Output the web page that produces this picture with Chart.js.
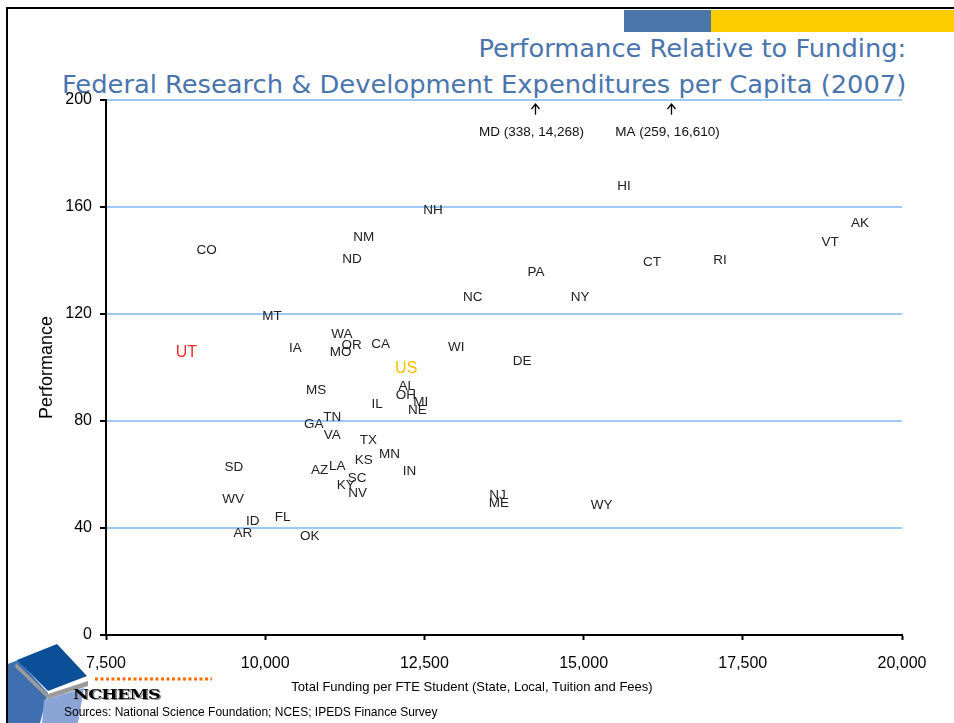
<!DOCTYPE html>
<html>
<head>
<meta charset="utf-8">
<script src="https://cdn.jsdelivr.net/npm/chart.js@4.4.1/dist/chart.umd.min.js"></script>
<style>
  html, body { margin: 0; padding: 0; background: #fff; }
  body { width: 954px; height: 723px; position: relative; overflow: hidden; font-family: "Liberation Sans", Arial, sans-serif; }
  #chart { position: absolute; left: 0; top: 0; }
  #frame { position: absolute; left: 6px; top: 7px; width: 960px; height: 730px; border-left: 2px solid #000; border-top: 2px solid #000; }
  .bar { position: absolute; top: 10px; height: 22px; }
  #title { position: absolute; right: 48px; top: 31px; text-align: right; color: #4a74ad;
           font-family: "DejaVu Sans Condensed", "DejaVu Sans", sans-serif; font-stretch: condensed;
           font-size: 25px; line-height: 36px; white-space: nowrap;
           transform: scaleX(1.145); transform-origin: right center; }
  .txt { position: absolute; white-space: nowrap; color: #000; }
  #xtitle { left: 472px; top: 686px; font-size: 13px; transform: translate(-50%, -50%); }
  #sources { left: 64px; top: 712px; font-size: 12px; transform: translateY(-50%); }
  #nchems { left: 73px; top: 695px; font-family: "DejaVu Serif", serif; font-weight: bold; font-size: 12px;
            transform: translateY(-50%) scaleX(1.45); transform-origin: left center; letter-spacing: -0.5px;
            text-shadow: 1px 1px 0 #888; }
  #logo { position: absolute; left: 0; top: 640px; }
</style>
</head>
<body>
<div id="frame"></div>
<div class="bar" style="left:624px; width:87px; background:#4a76aa;"></div>
<div class="bar" style="left:711px; width:243px; background:#ffcc00;"></div>
<div id="title">Performance Relative to Funding:<br>Federal Research &amp; Development Expenditures per Capita (2007)</div>
<canvas id="chart" width="954" height="723"></canvas>
<svg id="logo" width="220" height="83" viewBox="0 640 220 83">
  <polygon points="8,664 18,660 48,693 40,723 8,723" fill="#3f6fb0"/>
  <polygon points="44,700 84,688 78,723 42,723" fill="#8aa4d6"/>
  <polygon points="16,663 48,694 88,681 88,686 48,699 15,667" fill="#9a9a9a"/>
  <polygon points="17,660 57,644 87,676 48,691" fill="#0b4f98"/>
  <line x1="95" y1="679" x2="212" y2="679" stroke="#ff6a00" stroke-width="3" stroke-dasharray="3,2.5"/>
</svg>
<div id="xtitle" class="txt">Total Funding per FTE Student (State, Local, Tuition and Fees)</div>
<div id="nchems" class="txt">NCHEMS</div>
<div id="sources" class="txt">Sources: National Science Foundation; NCES; IPEDS Finance Survey</div>

<script>
// Datos: estado, financiamiento por estudiante FTE, desempeno
const states = ['CO', 'UT', 'MT', 'IA', 'WA', 'OR', 'MO', 'CA', 'NM', 'ND', 'NH', 'NC', 'WI', 'US',
                'DE', 'PA', 'NY', 'HI', 'CT', 'RI', 'VT', 'AK', 'MS', 'AL', 'OH', 'MI', 'NE', 'IL',
                'TN', 'GA', 'VA', 'TX', 'MN', 'KS', 'LA', 'AZ', 'SC', 'KY', 'NV', 'IN', 'SD', 'WV',
                'ID', 'FL', 'AR', 'OK', 'NJ', 'ME', 'WY'];
const funding = [9081, 8761, 10107, 10473, 11203, 11358, 11183, 11811, 11547, 11363, 12635, 13259, 13001, 12214,
                 14033, 14253, 14944, 15635, 16074, 17142, 18870, 19341, 10798, 12222, 12211, 12444, 12389, 11756,
                 11054, 10763, 11054, 11619, 11952, 11549, 11131, 10856, 11445, 11266, 11450, 12266, 9507, 9498,
                 9805, 10275, 9648, 10699, 13648, 13669, 15284];
const performance = [143.7, 105.7, 119.1, 107.0, 112.4, 108.3, 105.8, 108.5, 148.8, 140.4, 158.9, 126.2, 107.6, 99.6,
                     102.4, 135.7, 126.4, 167.9, 139.4, 140.2, 146.9, 154.0, 91.4, 92.8, 89.5, 86.9, 84.0, 86.3,
                     81.5, 78.8, 74.7, 72.8, 67.4, 65.3, 63.2, 61.6, 58.7, 56.0, 53.1, 61.2, 62.6, 50.6,
                     42.5, 44.0, 37.9, 36.9, 52.2, 49.3, 48.4];

// Estados fuera de escala (flechas arriba)
const offScaleLabels = ['MD (338, 14,268)', 'MA (259, 16,610)'];
const offScaleFunding = [14240, 16380];

const xTickStep = 2500;
const yTickStep = 40;

// Colores especiales
const labelColors = { UT: '#f02828', US: '#ffbf00' };

const stateLabels = {
    id: 'stateLabels',
    afterDatasetsDraw(chart) {
        const ctx = chart.ctx;
        const meta = chart.getDatasetMeta(0);
        const xs = chart.scales.x;
        const ys = chart.scales.y;
        ctx.save();
        ctx.textAlign = 'center';
        ctx.textBaseline = 'middle';
        meta.data.forEach((pt, i) => {
            const st = states[i];
            const special = labelColors[st];
            ctx.font = (special ? '16px' : '13.5px') + ' "Liberation Sans", Arial, sans-serif';
            ctx.fillStyle = special || '#222';
            ctx.fillText(st, pt.x, pt.y);
        });

        // Flechas para MD y MA
        ctx.strokeStyle = '#000';
        ctx.lineWidth = 1.3;
        ctx.fillStyle = '#111';
        ctx.font = '13.5px "Liberation Sans", Arial, sans-serif';
        offScaleFunding.forEach((v, i) => {
            const x = Math.round(xs.getPixelForValue(v)) + 0.5;
            const top = ys.getPixelForValue(198.5);
            const bottom = ys.getPixelForValue(194.5);
            ctx.beginPath();
            ctx.moveTo(x, bottom);
            ctx.lineTo(x, top);
            ctx.moveTo(x - 4, top + 5);
            ctx.lineTo(x, top);
            ctx.lineTo(x + 4, top + 5);
            ctx.stroke();
            ctx.fillText(offScaleLabels[i], x - 4, ys.getPixelForValue(188));
        });
        ctx.restore();
    }
};

Chart.defaults.font.family = '"Liberation Sans", Arial, sans-serif';

new Chart(document.getElementById('chart'), {
    type: 'scatter',
    data: {
        datasets: [{
            data: funding.map((f, i) => ({ x: f, y: performance[i] })),
            pointRadius: 0,
            pointHoverRadius: 0,
            showLine: false
        }]
    },
    options: {
        responsive: false,
        animation: false,
        locale: 'en-US',
        layout: { padding: { top: 100, right: 52, bottom: 0, left: 0 } },
        plugins: {
            legend: { display: false },
            tooltip: { enabled: false },
            title: { display: false }
        },
        scales: {
            x: {
                type: 'linear',
                min: 7500,
                max: 20000,
                ticks: { stepSize: xTickStep, color: '#000', font: { size: 16 }, padding: 14, maxRotation: 0 },
                grid: { drawOnChartArea: false, drawTicks: true, tickLength: 5, tickColor: '#000', tickWidth: 2 },
                border: { color: '#000', width: 2 },
                afterFit(scale) { scale.height = 88; }
            },
            y: {
                min: 0,
                max: 200,
                ticks: { stepSize: yTickStep, color: '#000', font: { size: 16 }, padding: 8 },
                grid: {
                    color: c => (c.tick && c.tick.value === 0) ? 'rgba(0,0,0,0)' : '#9cc9f5',
                    lineWidth: 2,
                    tickLength: 6,
                    tickColor: '#000',
                    tickWidth: 2
                },
                border: { color: '#000', width: 2 },
                title: { display: true, text: 'Performance', color: '#000', font: { size: 18 }, padding: { top: 36, bottom: 0 } },
                afterFit(scale) { scale.width = 106; }
            }
        }
    },
    plugins: [stateLabels]
});
</script>
</body>
</html>
